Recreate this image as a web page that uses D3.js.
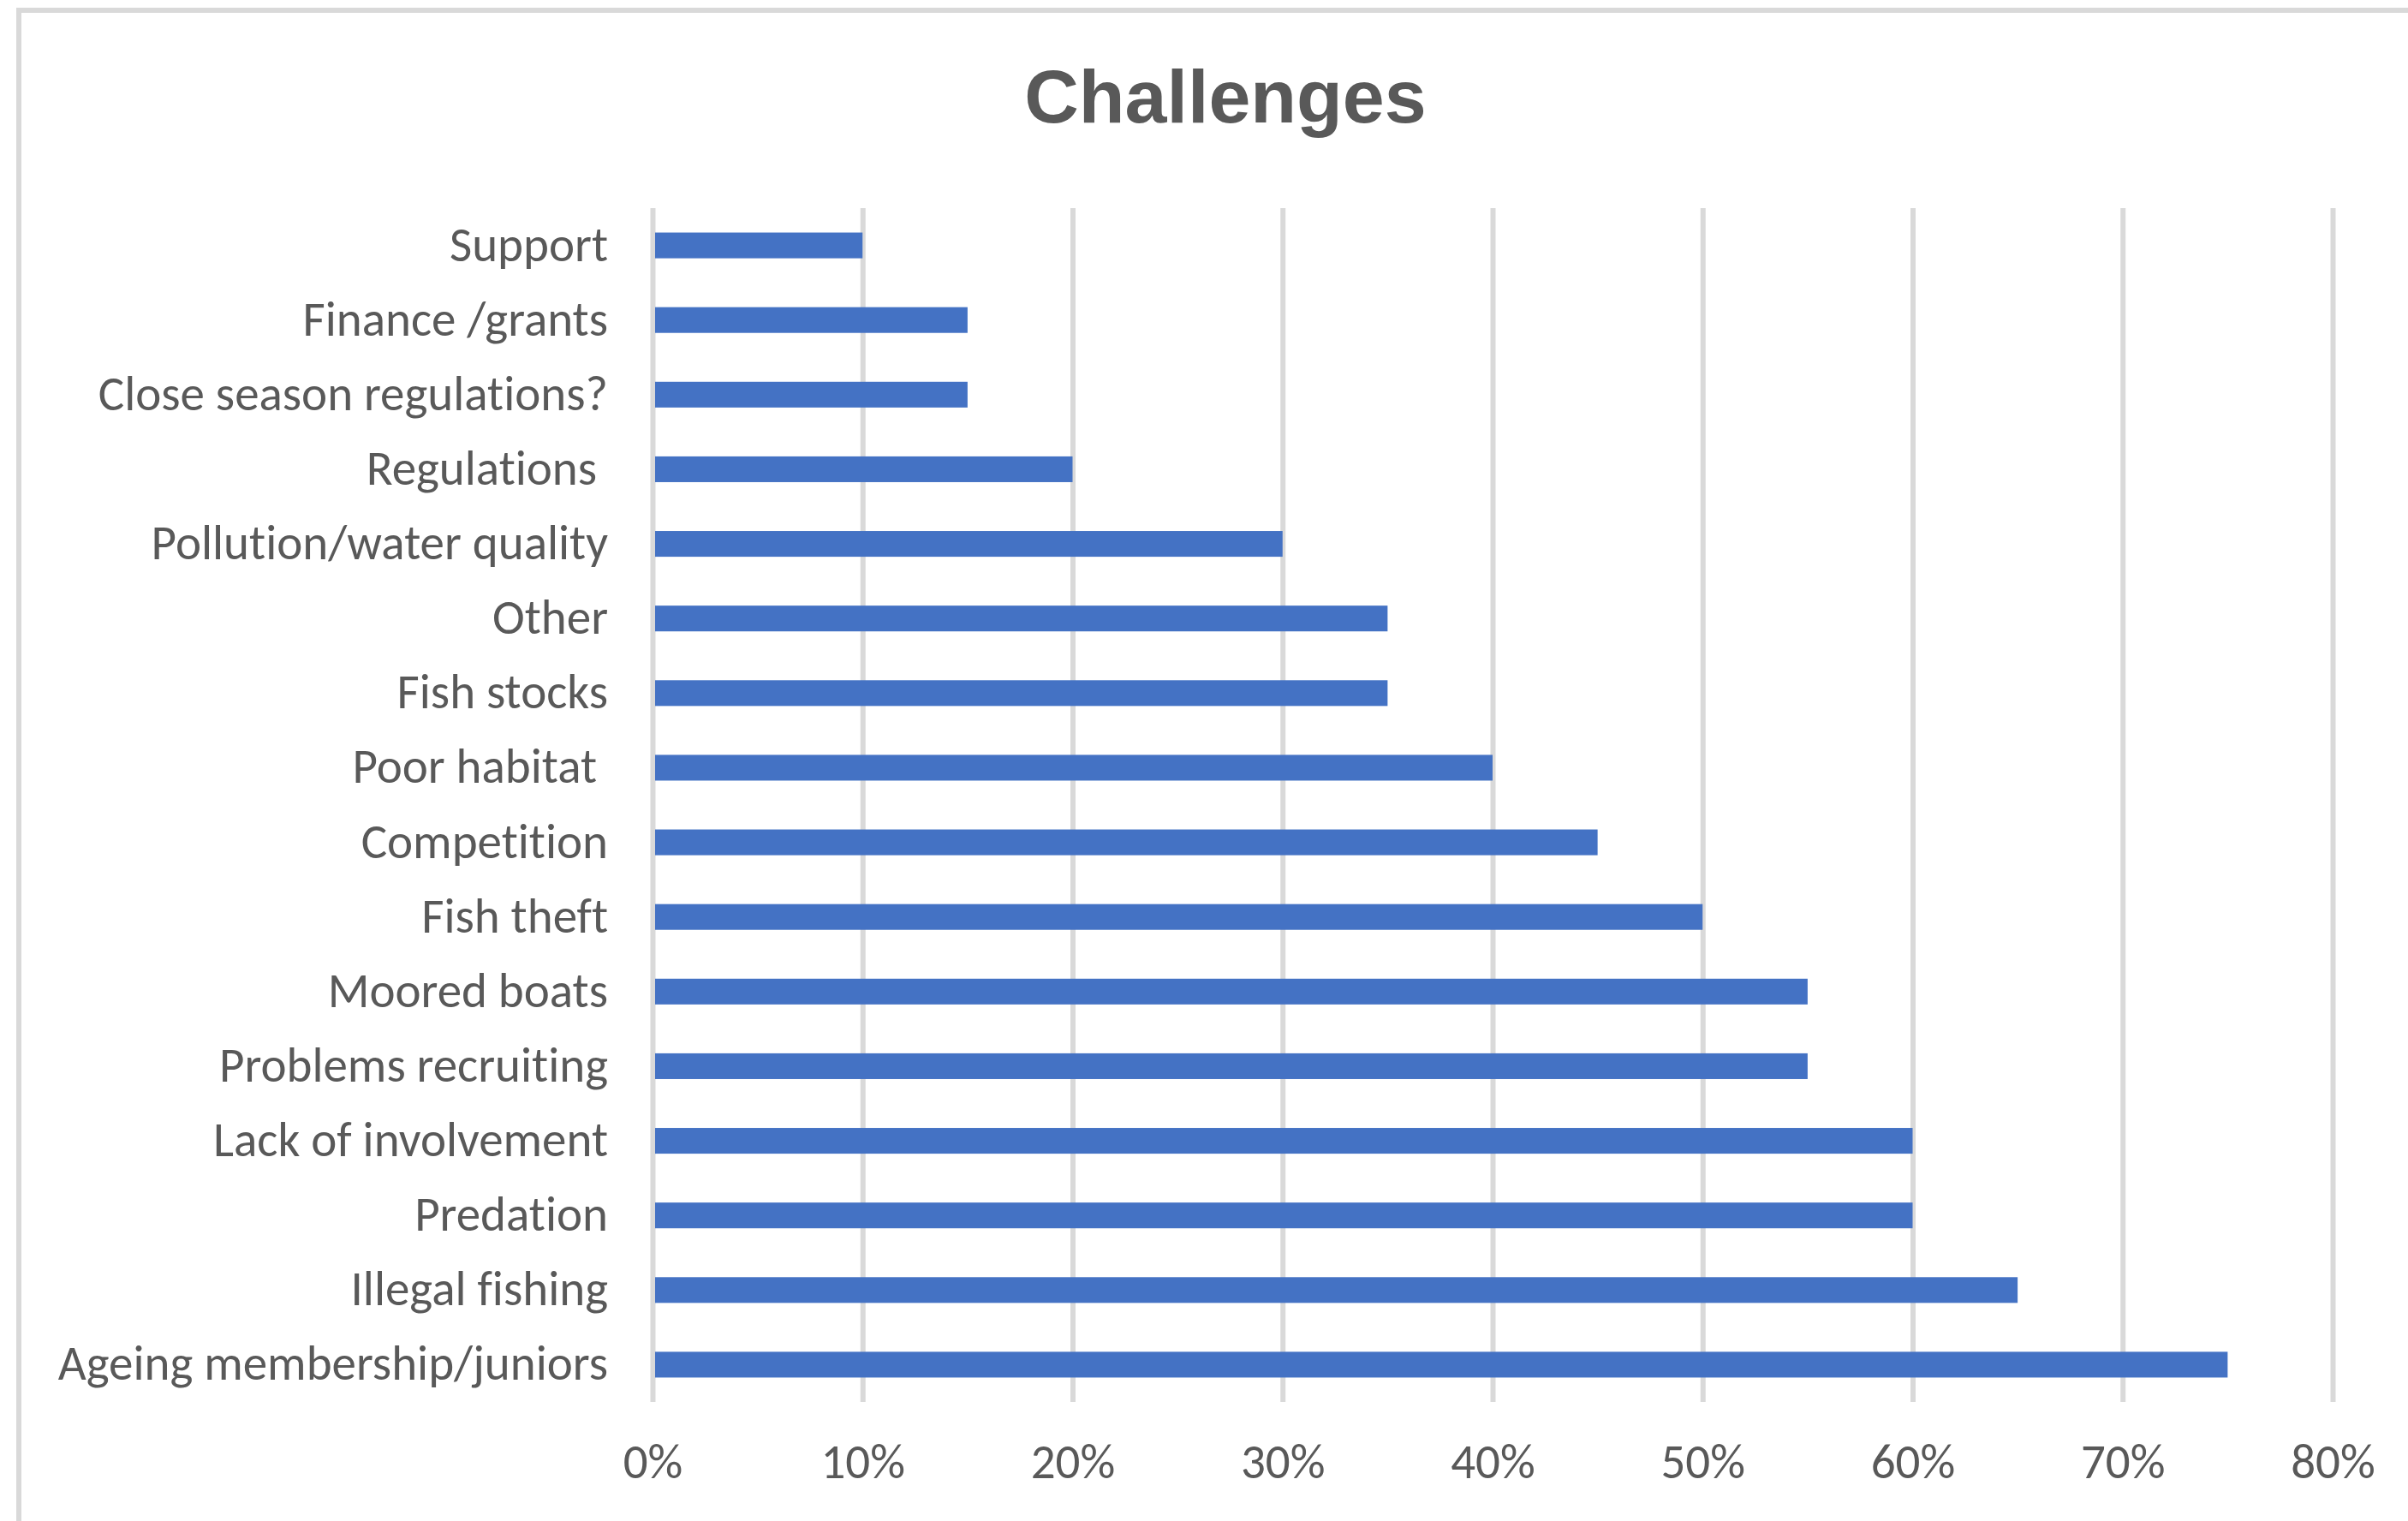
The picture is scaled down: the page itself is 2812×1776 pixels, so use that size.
<!DOCTYPE html>
<html>
<head>
<meta charset="utf-8">
<script src="https://cdn.jsdelivr.net/npm/d3@7"></script>
<style>
  html, body { margin: 0; padding: 0; background: #fff; }
  svg { display: block; }
  .catLabel, .tick text { font-family: Carlito, Calibri, "Liberation Sans", Arial, sans-serif; fill: #595959; white-space: pre; font-variant-ligatures: none; }
</style>
</head>
<body>
<div id="chart"></div>
<script>
// chart data
var categories = [
  "Support",
  "Finance /grants",
  "Close season regulations?",
  "Regulations ",
  "Pollution/water quality",
  "Other",
  "Fish stocks",
  "Poor habitat ",
  "Competition",
  "Fish theft",
  "Moored boats",
  "Problems recruiting",
  "Lack of involvement",
  "Predation",
  "Illegal fishing",
  "Ageing membership/juniors"
];
var values = [0.10, 0.15, 0.15, 0.20, 0.30, 0.35, 0.35, 0.40, 0.45, 0.50, 0.55, 0.55, 0.60, 0.60, 0.65, 0.75];
var tickValues = [0, 0.1, 0.2, 0.3, 0.4, 0.5, 0.6, 0.7, 0.8];
var chartTitle = "Challenges";

var svgWidth = 2812;
var svgHeight = 1776;

var margin = { top: 243, right: 88, bottom: 139, left: 762 };
var width = svgWidth - margin.left - margin.right;
var height = svgHeight - margin.top - margin.bottom;

var data = categories.map(function(c, i) { return { name: c, value: values[i] }; });

var svg = d3.select("#chart")
  .append("svg")
  .attr("width", svgWidth)
  .attr("height", svgHeight);

// outer frame (only top and left edges show in the picture)
svg.append("path")
  .attr("d", "M22," + svgHeight + "V12H" + svgWidth)
  .attr("fill", "none")
  .attr("stroke", "#d9d9d9")
  .attr("stroke-width", 6);

// title
svg.append("text")
  .attr("x", 1431)
  .attr("y", 143)
  .attr("text-anchor", "middle")
  .style("font-family", "'Liberation Sans', Arial, sans-serif")
  .style("font-weight", "bold")
  .style("font-size", "88px")
  .style("fill", "#595959")
  .text(chartTitle);

var chartGroup = svg.append("g")
  .attr("transform", `translate(${margin.left}, ${margin.top})`);

var xScale = d3.scaleLinear()
  .domain([0, 0.8])
  .range([0, width]);

var yScale = d3.scaleBand()
  .domain(categories)
  .range([0, height])
  .paddingInner(0.655)
  .paddingOuter(0.3275);

// x axis with gridlines
var xAxis = d3.axisBottom(xScale)
  .tickValues(tickValues)
  .tickFormat(d3.format(".0%"))
  .tickSize(-height)
  .tickSizeOuter(0);

var xAxisGroup = chartGroup.append("g")
  .attr("transform", `translate(0, ${height})`)
  .call(xAxis);

xAxisGroup.select(".domain").remove();
xAxisGroup.selectAll(".tick line")
  .attr("stroke", "#d9d9d9")
  .attr("stroke-width", 6);
xAxisGroup.selectAll(".tick text")
  .attr("y", 89)
  .attr("dy", null)
  .style("font-size", "57px");

// bars
chartGroup.selectAll("rect.bar")
  .data(data)
  .enter()
  .append("rect")
  .classed("bar", true)
  .attr("x", xScale(0) + 3)
  .attr("y", d => yScale(d.name))
  .attr("width", d => xScale(d.value) - xScale(0) - 3)
  .attr("height", yScale.bandwidth())
  .attr("fill", "#4472c4");

// category labels
chartGroup.selectAll("text.catLabel")
  .data(data)
  .enter()
  .append("text")
  .classed("catLabel", true)
  .attr("x", -52)
  .attr("y", d => yScale(d.name) + yScale.bandwidth() / 2 + 18)
  .attr("text-anchor", "end")
  .style("font-size", "57px")
  .text(d => d.name);
</script>
</body>
</html>
